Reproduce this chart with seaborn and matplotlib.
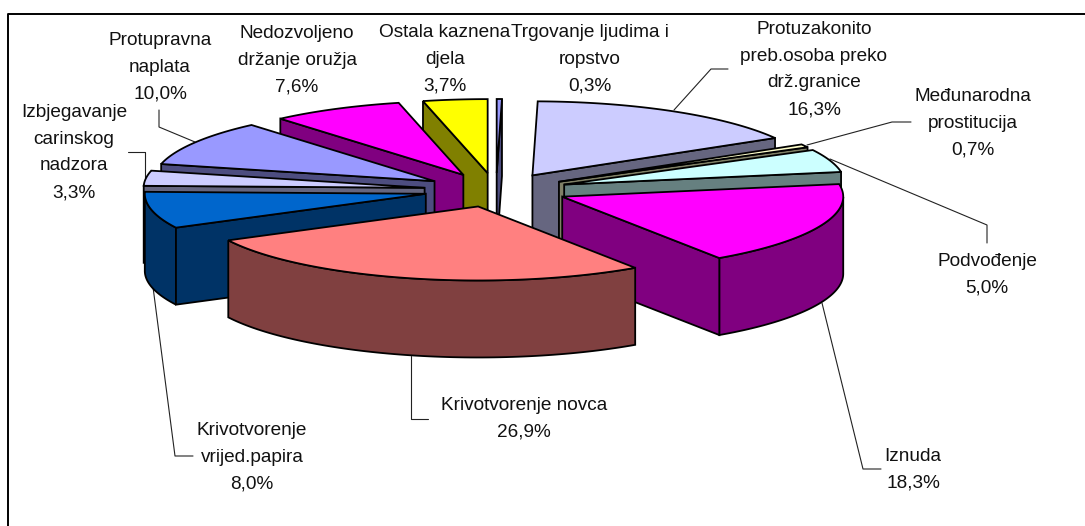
import numpy as np
import matplotlib
matplotlib.use("Agg")
import matplotlib.pyplot as plt
from matplotlib.patches import Polygon
import seaborn as sns

names = ["Trgovanje ljudima i\nropstvo", "Protuzakonito\npreb.osoba preko\ndrž.granice",
         "Međunarodna\nprostitucija", "Podvođenje", "Iznuda", "Krivotvorenje novca",
         "Krivotvorenje\nvrijed.papira", "Izbjegavanje\ncarinskog\nnadzora",
         "Protupravna\nnaplata", "Nedozvoljeno\ndržanje oružja", "Ostala kaznena\ndjela"]
values = [0.3, 16.3, 0.7, 5.0, 18.3, 26.9, 8.0, 3.3, 10.0, 7.6, 3.7]
top_colors = ["#9999FF", "#CCCCFF", "#FFFFCC", "#CCFFFF", "#FF00FF", "#FF8080",
              "#0066CC", "#CCCCFF", "#9999FF", "#FF00FF", "#FFFF00"]
label_xy = [(590, 37), (814, 34), (973, 101), (987, 266), (913, 461), (524, 410),
            (252, 435), (74, 117), (160, 45), (297, 38), (445, 37)]
leaders = [None,
           [(728, 69), (711, 69), (674, 110)],
           [(911, 122), (892, 122), (807, 145)],
           [(987, 243), (987, 225), (830, 159)],
           [(822, 303), (863, 469), (881, 469)],
           [(411, 356), (411, 419), (428, 419)],
           [(153, 287), (175, 456), (193, 456)],
           [(128, 152), (145, 152), (145, 178)],
           [(159, 110), (159, 127), (195, 142)],
           None, None]

CX, CY, RX, RY, EX, EY, DEPTH = 496, 190, 281, 74, 72, 17, 77

sns.set_theme(style="white")
plt.rcParams["font.family"] = ["Liberation Sans", "DejaVu Sans"]
fig = plt.figure(figsize=(10.85, 5.26), dpi=100)
ax = fig.add_axes([0, 0, 1, 1])
ax.set_xlim(0, 1085)
ax.set_ylim(526, 0)
ax.axis("off")
ax.plot([8, 8, 1085], [526, 13.5, 13.5], color="black", lw=1.4, zorder=1)

fr = np.array(values) / np.sum(values)
edges = np.concatenate([[0], np.cumsum(fr)]) * 2 * np.pi


def darker(c):
    return tuple(v * 0.5 for v in matplotlib.colors.to_rgb(c))


slices = []
for i in range(len(values)):
    a0, a1 = edges[i], edges[i + 1]
    mid = (a0 + a1) / 2
    slices.append((-np.cos(mid), i, a0, a1, mid))

LW = 1.3
for order, (_, i, a0, a1, mid) in enumerate(sorted(slices)):
    ax_, ay_ = CX + EX * np.sin(mid), CY - EY * np.cos(mid)
    t = np.linspace(a0, a1, 80)
    px, py = ax_ + RX * np.sin(t), ay_ - RY * np.cos(t)
    z = 10 + order
    dark = darker(top_colors[i])
    front = np.cos(t) < 0
    if front.any():
        fx, fy = px[front], py[front]
        wall = list(zip(fx, fy)) + list(zip(fx[::-1], fy[::-1] + DEPTH))
        ax.add_patch(Polygon(wall, fc=dark, ec="black", lw=LW, zorder=z))
    if np.sin(a0) < 0:
        ax.add_patch(Polygon([(ax_, ay_), (px[0], py[0]), (px[0], py[0] + DEPTH), (ax_, ay_ + DEPTH)],
                             fc=dark, ec="black", lw=LW, zorder=z))
    if np.sin(a1) > 0:
        ax.add_patch(Polygon([(ax_, ay_), (px[-1], py[-1]), (px[-1], py[-1] + DEPTH), (ax_, ay_ + DEPTH)],
                             fc=dark, ec="black", lw=LW, zorder=z))
    top = [(ax_, ay_)] + list(zip(px, py))
    ax.add_patch(Polygon(top, fc=top_colors[i], ec="black", lw=LW, zorder=z))

for i, name in enumerate(names):
    txt = name + "\n" + f"{values[i]:.1f}%".replace(".", ",")
    x, y = label_xy[i]
    for j, line in enumerate(txt.split("\n")):
        ax.text(x, y + j * 26.7, line, ha="center", va="baseline", fontsize=13.7,
                color="#111111", zorder=50)
    if leaders[i]:
        lx, ly = zip(*leaders[i])
        ax.plot(lx, ly, color="#222222", lw=0.8, zorder=5)

fig.savefig("out.png", dpi=100)
